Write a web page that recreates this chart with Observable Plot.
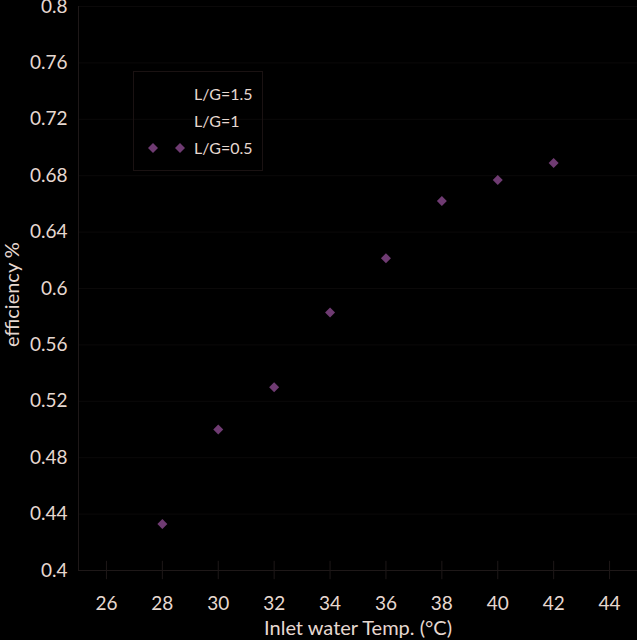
<!DOCTYPE html>
<html>
<head>
<meta charset="utf-8">
<script src="https://cdn.jsdelivr.net/npm/d3@7"></script>
<script src="https://cdn.jsdelivr.net/npm/@observablehq/plot@0.6"></script>
<style>
  html, body { margin: 0; padding: 0; background: #000; }
  #wrap { position: relative; width: 637px; height: 640px; background: #000; font-family: Lato, "Open Sans", sans-serif; }
  #legend { position: absolute; left: 133px; top: 71px; width: 130px; height: 100px; border: 1px solid #1a1212; box-sizing: border-box; }
  .item { position: absolute; left: 0; width: 130px; height: 20px; }
  .item span { position: absolute; left: 60px; top: 0; line-height: 20px; font-size: 16px; color: #e6d8d0; }
  .item svg { position: absolute; left: 0; top: 0; }
</style>
</head>
<body>
<div id="wrap"></div>
<script>
// Data
const temps = [28, 30, 32, 34, 36, 38, 40, 42];
const effLG05 = [0.433, 0.500, 0.530, 0.583, 0.6215, 0.662, 0.677, 0.689];
const seriesNames = ["L/G=1.5", "L/G=1", "L/G=0.5"];
const xTicks = [26, 28, 30, 32, 34, 36, 38, 40, 42, 44];
const yTicks = [0.4, 0.44, 0.48, 0.52, 0.56, 0.6, 0.64, 0.68, 0.72, 0.76, 0.8];
const xLabel = "Inlet water Temp. (\u00B0C)";
const yLabel = "efficiency %";

const data = temps.map((t, i) => ({ temp: t, eff: effLG05[i], series: "L/G=0.5" }));

const textColor = "#e6d8d0";
const purple = "#6f3b72";

const chart = Plot.plot({
  width: 637,
  height: 640,
  marginLeft: 78,
  marginRight: 0,
  marginTop: 6,
  marginBottom: 70,
  style: { background: "#000", color: textColor, fontFamily: "Lato, 'Open Sans', sans-serif", overflow: "visible" },
  x: { domain: [25, 45] },
  y: { domain: [0.4, 0.8] },
  marks: [
    Plot.ruleY(yTicks, { stroke: "#0b0909", strokeWidth: 1 }),
    Plot.ruleX([25], { stroke: "#1e1818" }),
    Plot.ruleY([0.4], { stroke: "#1e1818" }),
    Plot.ruleX(xTicks, { y1: 0.3935, y2: 0.4065, stroke: "#1e1818", clip: false }),
    Plot.axisX({ ticks: xTicks, tickSize: 0, tickPadding: 26, fontSize: 19, label: null, tickFormat: d => String(d) }),
    Plot.axisY({ ticks: yTicks, tickSize: 0, tickPadding: 11, fontSize: 19, label: null, tickFormat: d => String(d) }),
    Plot.dot(data, { x: "temp", y: "eff", symbol: "diamond2", r: 4.5, fill: purple, stroke: "none" }),
    Plot.text([xLabel], { text: d => d, frameAnchor: "bottom", lineAnchor: "middle", dy: 58, fontSize: 20, fill: textColor }),
    Plot.text([yLabel], { text: d => d, frameAnchor: "left", textAnchor: "middle", lineAnchor: "middle", dx: -66, dy: 6, rotate: -90, fontSize: 20, fill: textColor })
  ]
});

const wrap = document.getElementById("wrap");
wrap.appendChild(chart);

// Legend (inside the plot area, as in the reference)
const legend = document.createElement("div");
legend.id = "legend";
const rowTops = [12, 39, 66];
seriesNames.forEach((name, i) => {
  const item = document.createElement("div");
  item.className = "item";
  item.style.top = rowTops[i] + "px";
  if (name === "L/G=0.5") {
    item.innerHTML = `<svg width="60" height="20"><path d="M19,5 L24,10 L19,15 L14,10 Z" fill="${purple}"/><path d="M46,5 L51,10 L46,15 L41,10 Z" fill="${purple}"/></svg>`;
  }
  const s = document.createElement("span");
  s.textContent = name;
  item.appendChild(s);
  legend.appendChild(item);
});
wrap.appendChild(legend);
</script>
</body>
</html>
